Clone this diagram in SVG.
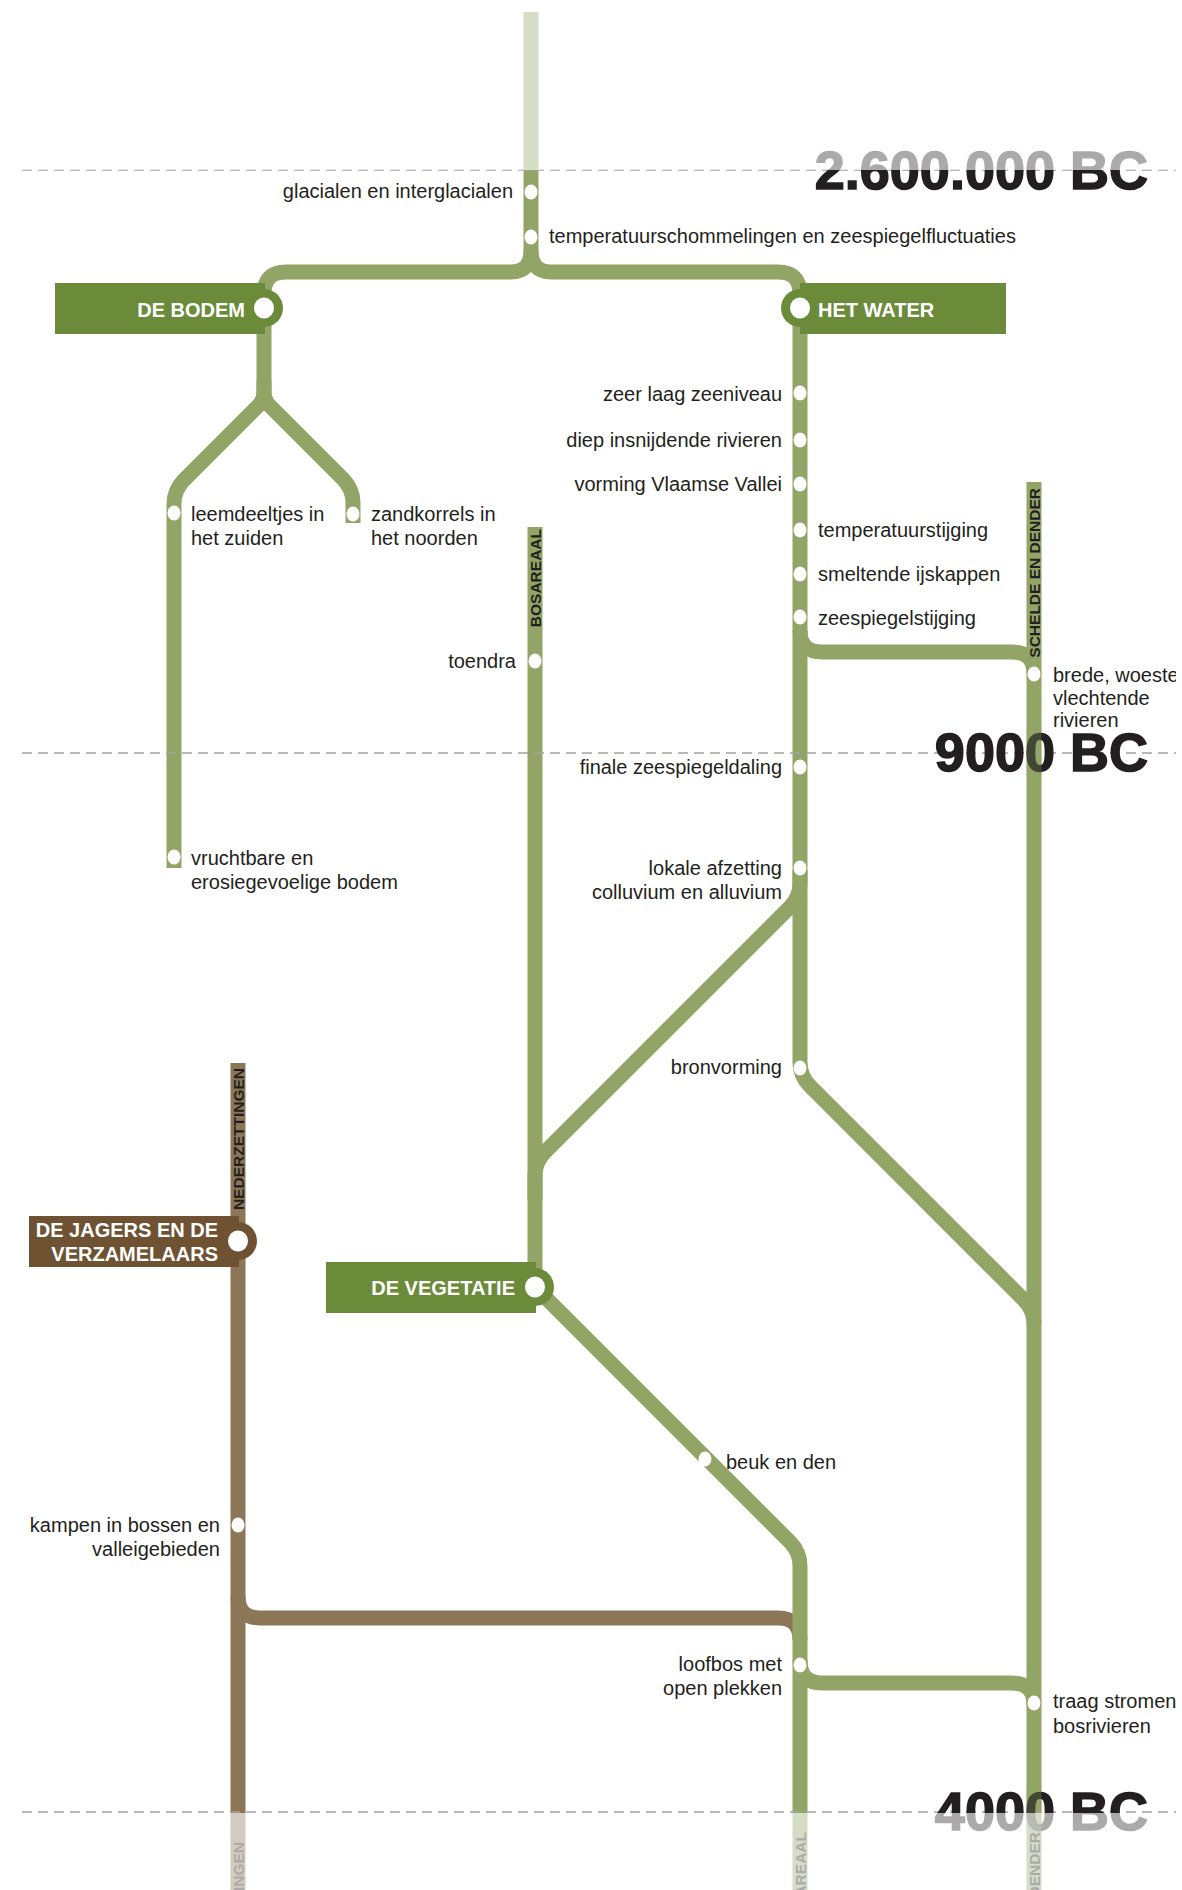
<svg xmlns="http://www.w3.org/2000/svg" width="1182" height="1890" viewBox="0 0 1182 1890">
<style>
.ln{fill:none;stroke:#92a566;stroke-width:15}
.br{fill:none;stroke:#8c7658;stroke-width:15}
.dot{fill:#fff}
.lbl{font-family:"Liberation Sans",Arial,sans-serif;font-size:20px;fill:#231f20}
.st{font-family:"Liberation Sans",Arial,sans-serif;font-size:20px;font-weight:bold;fill:#fff}
.vt{font-family:"Liberation Sans",Arial,sans-serif;font-size:15.5px;font-weight:bold;fill:#231f20}
.yr{font-family:"Liberation Sans",Arial,sans-serif;font-size:54px;font-weight:bold;fill:#231f20;stroke:#231f20;stroke-width:1.5}
.dash{stroke:#a3a3a3;stroke-width:1.5;stroke-dasharray:10 6}
.gbox{fill:#6b8b3b}
.bbox{fill:#6e5232}
.fade{fill:#fff;opacity:0.62}
</style>
<defs>
<clipPath id="cl"><rect x="0" y="0" width="1176" height="1890"/></clipPath>
</defs>
<g clip-path="url(#cl)">
<g id="connectors">
<path class="br" d="M238,1063 L238,1890"/>
<path class="br" d="M238,1596 Q238,1618 260,1618 L778,1618 Q800,1618 800,1640"/>
<path class="ln" d="M531,12 L531,250 Q531,272 511,272 L286,272 Q264,272 264,294 L264,392 Q264,400 258,406 L184,480 Q174,490 174,504 L174,868"/>
<path class="ln" d="M531,250 Q531,272 551,272 L778,272 Q800,272 800,294 L800,1062 Q800,1076 810,1086 L1024,1300 Q1034,1310 1034,1324"/>
<path class="ln" d="M264,380 L264,392 Q264,400 270,406 L343,479 Q353,489 353,503 L353,523"/>
<path class="ln" d="M800,630 Q800,652 822,652 L1012,652 Q1034,652 1034,674"/>
<path class="ln" d="M1034,482 L1034,1890"/>
<path class="ln" d="M535,527 L535,1287"/>
<path class="ln" d="M800,870 L800,883 Q800,897 790,907 L545,1152 Q535,1162 535,1176 L535,1200"/>
<path class="ln" d="M535,1287 L790,1542 Q800,1552 800,1566 L800,1890"/>
<path class="ln" d="M800,1660 Q800,1683 822,1683 L1012,1683 Q1034,1683 1034,1705"/>
</g>
<g id="timeline">
<line class="dash" x1="22" y1="170" x2="1176" y2="170"/>
<line class="dash" x1="22" y1="753" x2="1176" y2="753"/>
<line class="dash" x1="22" y1="1812" x2="1176" y2="1812"/>
<text class="yr" x="1148" y="189" text-anchor="end">2.600.000 BC</text>
<text class="yr" x="1148" y="771" text-anchor="end">9000 BC</text>
<text class="yr" x="1148" y="1830" text-anchor="end">4000 BC</text>
<rect x="1026.5" y="728" width="15" height="48" fill="#92a566" opacity="0.3"/>
<rect x="1026.5" y="1787" width="15" height="48" fill="#92a566" opacity="0.3"/>
</g>
<g id="line-labels">
<text class="vt" transform="translate(540.5,529) rotate(-90)" text-anchor="end">BOSAREAAL</text>
<text class="vt" transform="translate(1039.5,488) rotate(-90)" text-anchor="end">SCHELDE EN DENDER</text>
<text class="vt" transform="translate(243.5,1068) rotate(-90)" text-anchor="end">NEDERZETTINGEN</text>
<text class="vt" transform="translate(805.5,1832) rotate(-90)" text-anchor="end">BOSAREAAL</text>
<text class="vt" transform="translate(1039.5,1832) rotate(-90)" text-anchor="end">SCHELDE EN DENDER</text>
<text class="vt" transform="translate(243.5,1842) rotate(-90)" text-anchor="end">NEDERZETTINGEN</text>
</g>
<g id="de-bodem">
<rect class="gbox" x="55" y="283" width="210" height="51"/>
<circle class="gbox" cx="264" cy="308" r="19"/>
<ellipse class="dot" cx="264" cy="308" rx="10" ry="10.5"/>
<text class="st" x="245" y="317" text-anchor="end">DE BODEM</text>
</g>
<g id="het-water">
<rect class="gbox" x="800" y="283" width="206" height="51"/>
<circle class="gbox" cx="800" cy="308" r="19"/>
<ellipse class="dot" cx="800" cy="308" rx="10" ry="10.5"/>
<text class="st" x="818" y="317">HET WATER</text>
</g>
<g id="de-vegetatie">
<rect class="gbox" x="326" y="1262" width="210" height="51"/>
<circle class="gbox" cx="535" cy="1287" r="19"/>
<ellipse class="dot" cx="535" cy="1287" rx="10" ry="10.5"/>
<text class="st" x="515" y="1295" text-anchor="end">DE VEGETATIE</text>
</g>
<g id="de-jagers">
<rect class="bbox" x="29" y="1216" width="210" height="51"/>
<circle class="bbox" cx="238" cy="1241" r="19"/>
<ellipse class="dot" cx="238" cy="1241" rx="10" ry="10.5"/>
<text class="st" x="218" y="1237" text-anchor="end">DE JAGERS EN DE</text>
<text class="st" x="218" y="1261" text-anchor="end">VERZAMELAARS</text>
</g>
<g id="stop-glacialen"><ellipse class="dot" cx="531" cy="192" rx="6.5" ry="7.5"/><text class="lbl" x="513" y="198" text-anchor="end">glacialen en interglacialen</text></g>
<g id="stop-temperatuurschommelingen"><ellipse class="dot" cx="531" cy="237" rx="6.5" ry="7.5"/><text class="lbl" x="549" y="243">temperatuurschommelingen en zeespiegelfluctuaties</text></g>
<g id="stop-leemdeeltjes"><ellipse class="dot" cx="174" cy="513" rx="6.5" ry="7.5"/><text class="lbl" x="191" y="521">leemdeeltjes in</text><text class="lbl" x="191" y="545">het zuiden</text></g>
<g id="stop-zandkorrels"><ellipse class="dot" cx="353" cy="514" rx="6.5" ry="7.5"/><text class="lbl" x="371" y="521">zandkorrels in</text><text class="lbl" x="371" y="545">het noorden</text></g>
<g id="stop-vruchtbare"><ellipse class="dot" cx="174" cy="857" rx="6.5" ry="7.5"/><text class="lbl" x="191" y="865">vruchtbare en</text><text class="lbl" x="191" y="889">erosiegevoelige bodem</text></g>
<g id="stop-toendra"><ellipse class="dot" cx="535" cy="661" rx="6.5" ry="7.5"/><text class="lbl" x="516" y="668" text-anchor="end">toendra</text></g>
<g id="stop-zeer-laag"><ellipse class="dot" cx="800" cy="393" rx="6.5" ry="7.5"/><text class="lbl" x="782" y="401" text-anchor="end">zeer laag zeeniveau</text></g>
<g id="stop-diep"><ellipse class="dot" cx="800" cy="440" rx="6.5" ry="7.5"/><text class="lbl" x="782" y="447" text-anchor="end">diep insnijdende rivieren</text></g>
<g id="stop-vorming"><ellipse class="dot" cx="800" cy="484" rx="6.5" ry="7.5"/><text class="lbl" x="782" y="491" text-anchor="end">vorming Vlaamse Vallei</text></g>
<g id="stop-temperatuurstijging"><ellipse class="dot" cx="800" cy="530" rx="6.5" ry="7.5"/><text class="lbl" x="818" y="537">temperatuurstijging</text></g>
<g id="stop-smeltende"><ellipse class="dot" cx="800" cy="574" rx="6.5" ry="7.5"/><text class="lbl" x="818" y="581">smeltende ijskappen</text></g>
<g id="stop-zeespiegelstijging"><ellipse class="dot" cx="800" cy="617" rx="6.5" ry="7.5"/><text class="lbl" x="818" y="625">zeespiegelstijging</text></g>
<g id="stop-brede"><ellipse class="dot" cx="1034" cy="674" rx="6.5" ry="7.5"/><text class="lbl" x="1053" y="682">brede, woeste</text><text class="lbl" x="1053" y="705">vlechtende</text><text class="lbl" x="1053" y="727">rivieren</text></g>
<g id="stop-finale"><ellipse class="dot" cx="800" cy="767" rx="6.5" ry="7.5"/><text class="lbl" x="782" y="774" text-anchor="end">finale zeespiegeldaling</text></g>
<g id="stop-lokale"><ellipse class="dot" cx="800" cy="868" rx="6.5" ry="7.5"/><text class="lbl" x="782" y="875" text-anchor="end">lokale afzetting</text><text class="lbl" x="782" y="899" text-anchor="end">colluvium en alluvium</text></g>
<g id="stop-bronvorming"><ellipse class="dot" cx="800" cy="1068" rx="6.5" ry="7.5"/><text class="lbl" x="782" y="1074" text-anchor="end">bronvorming</text></g>
<g id="stop-kampen"><ellipse class="dot" cx="238" cy="1525" rx="6.5" ry="7.5"/><text class="lbl" x="220" y="1532" text-anchor="end">kampen in bossen en</text><text class="lbl" x="220" y="1556" text-anchor="end">valleigebieden</text></g>
<g id="stop-beuk"><ellipse class="dot" cx="705" cy="1459" rx="6.5" ry="7.5"/><text class="lbl" x="726" y="1469">beuk en den</text></g>
<g id="stop-loofbos"><ellipse class="dot" cx="800" cy="1665" rx="6.5" ry="7.5"/><text class="lbl" x="782" y="1671" text-anchor="end">loofbos met</text><text class="lbl" x="782" y="1695" text-anchor="end">open plekken</text></g>
<g id="stop-traag"><ellipse class="dot" cx="1034" cy="1703" rx="6.5" ry="7.5"/><text class="lbl" x="1053" y="1708">traag stromen</text><text class="lbl" x="1053" y="1733">bosrivieren</text></g>
<rect class="fade" x="0" y="0" width="1182" height="170"/>
<rect class="fade" x="0" y="1813" width="1182" height="77"/>
</g>
</svg>
